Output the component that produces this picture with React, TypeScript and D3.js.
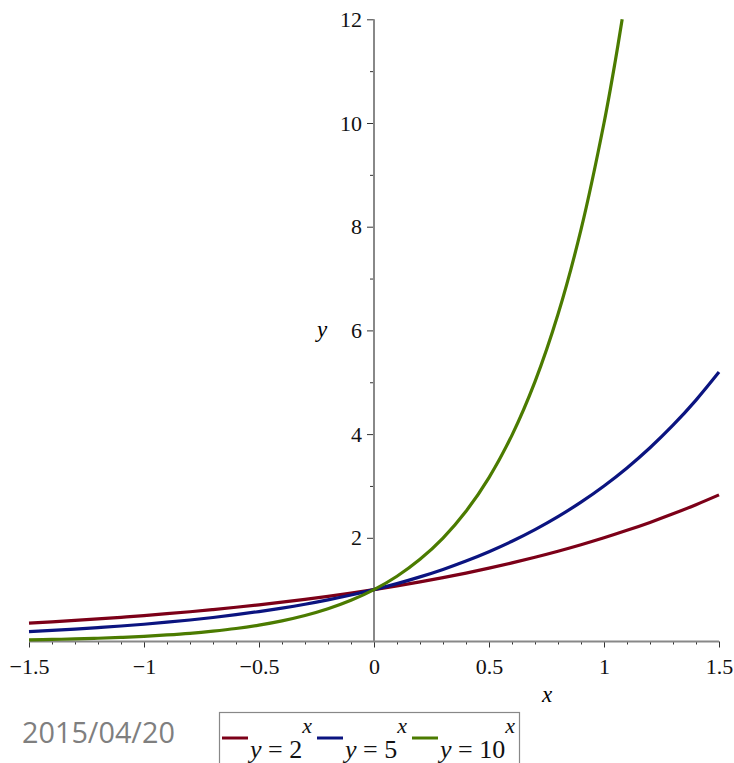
import React, { useEffect, useRef } from 'react'
import * as d3 from 'd3'

// sample points
const xValues = [-1.5, -1.4, -1.3, -1.2, -1.1, -1.0, -0.9, -0.8, -0.7, -0.6, -0.5, -0.4, -0.3, -0.2, -0.1, 0,
  0.1, 0.2, 0.3, 0.4, 0.5, 0.6, 0.7, 0.8, 0.9, 1.0, 1.1, 1.2, 1.3, 1.4, 1.5]
const redValues = [0.354, 0.379, 0.406, 0.435, 0.467, 0.5, 0.536, 0.574, 0.616, 0.66, 0.707, 0.758, 0.812, 0.871, 0.933, 1,
  1.072, 1.149, 1.231, 1.32, 1.414, 1.516, 1.625, 1.741, 1.866, 2.0, 2.144, 2.297, 2.462, 2.639, 2.828]
const blueValues = [0.192, 0.215, 0.24, 0.268, 0.299, 0.333, 0.372, 0.415, 0.463, 0.517, 0.577, 0.644, 0.719, 0.803, 0.896, 1,
  1.116, 1.246, 1.39, 1.552, 1.732, 1.933, 2.158, 2.408, 2.688, 3.0, 3.348, 3.737, 4.171, 4.656, 5.196]
const greenX = [-1.5, -1.4, -1.3, -1.2, -1.1, -1.0, -0.9, -0.8, -0.7, -0.6, -0.5, -0.4, -0.3, -0.2, -0.1, 0,
  0.1, 0.2, 0.3, 0.4, 0.5, 0.6, 0.7, 0.8, 0.9, 1.0, 1.05, 1.079]
const greenValues = [0.032, 0.04, 0.05, 0.063, 0.079, 0.1, 0.126, 0.158, 0.2, 0.251, 0.316, 0.398, 0.501, 0.631, 0.794, 1,
  1.259, 1.585, 1.995, 2.512, 3.162, 3.981, 5.012, 6.31, 7.943, 10.0, 11.22, 12.0]

const xMajor = [-1.5, -1, -0.5, 0, 0.5, 1, 1.5]
const yMajor = [2, 4, 6, 8, 10, 12]
const yMinor = [1, 3, 5, 7, 9, 11]
const legendLabels = ['2', '5', '10']

const RED = '#7c0018'
const BLUE = '#0b1480'
const GREEN = '#4b7b00'
const SERIF = 'Liberation Serif, DejaVu Serif, serif'

function App () {
  const axRef = useRef<SVGGElement>(null)

  const x = d3.scaleLinear().domain([-1.5, 1.5]).range([29, 719])
  const y = d3.scaleLinear().domain([0, 12]).range([641.5, 19.3])

  const line = d3.line<[number, number]>()
    .x(d => x(d[0]))
    .y(d => y(d[1]))
    .curve(d3.curveCatmullRom)

  const series = [
    { color: RED, pts: xValues.map((v, i) => [v, redValues[i]] as [number, number]) },
    { color: BLUE, pts: xValues.map((v, i) => [v, blueValues[i]] as [number, number]) },
    { color: GREEN, pts: greenX.map((v, i) => [v, greenValues[i]] as [number, number]) },
  ]

  useEffect(() => {
    const g = d3.select(axRef.current)
    g.selectAll('*').remove()

    const fmt = (d: any) => (d < 0 ? '\u2212' + Math.abs(d) : String(d))

    // x axis, major and minor
    const xMinor = d3.range(-15, 16).map(i => i / 10).filter(v => !xMajor.some(m => Math.abs(m - v) < 1e-9))
    g.append('g')
      .attr('transform', `translate(0,${y(0)})`)
      .call(d3.axisBottom(x).tickValues(xMinor).tickSize(3).tickFormat(() => ''))
    g.append('g')
      .attr('transform', `translate(0,${y(0)})`)
      .call(d3.axisBottom(x).tickValues(xMajor).tickSize(6).tickPadding(11).tickFormat(fmt))

    // y axis
    g.append('g')
      .attr('transform', `translate(${x(0)},0)`)
      .call(d3.axisLeft(y).tickValues(yMinor).tickSize(4).tickFormat(() => ''))
    g.append('g')
      .attr('transform', `translate(${x(0)},0)`)
      .call(d3.axisLeft(y).tickValues(yMajor).tickSize(7).tickPadding(5).tickFormat(fmt))

    g.selectAll('.domain').remove()
    g.selectAll('g').attr('font-family', null).attr('font-size', null)
    g.selectAll('.tick line').attr('stroke', '#333').attr('stroke-width', 1)
    g.selectAll('.tick text')
      .style('font-family', SERIF)
      .style('font-size', '22px')
      .attr('fill', '#111')

    // axis lines
    g.append('line')
      .attr('x1', x(-1.5)).attr('x2', x(1.5))
      .attr('y1', y(0)).attr('y2', y(0))
      .attr('stroke', '#888').attr('stroke-width', 2)
    g.append('line')
      .attr('x1', x(0)).attr('x2', x(0))
      .attr('y1', y(0)).attr('y2', y(12))
      .attr('stroke', '#888').attr('stroke-width', 2)
  }, [])

  const legendX = [222, 317, 412]
  const serifStyle = { fontFamily: SERIF }

  return (
    <div style={{ position: 'absolute', left: 0, top: 0 }}>
      <svg width={734} height={763} style={{ display: 'block', background: '#fff' }}>
        <g ref={axRef} />
        {series.map((s, i) => (
          <path key={i} d={line(s.pts) || ''} fill="none" stroke={s.color} strokeWidth={3.2} />
        ))}
        <text x={322} y={337} textAnchor="middle" style={serifStyle} fontStyle="italic" fontSize={23}>y</text>
        <text x={547} y={702} textAnchor="middle" style={serifStyle} fontStyle="italic" fontSize={23}>x</text>

        <text x={22} y={743} style={{ fontFamily: 'Open Sans, sans-serif' }} fontSize={28.8} fill="#7f7f7f">2015/04/20</text>

        <rect x={219.5} y={712.5} width={300} height={70} fill="#fff" stroke="#888" strokeWidth={1.2} />
        {legendLabels.map((lab, i) => (
          <g key={lab}>
            <line x1={legendX[i]} x2={legendX[i] + 26} y1={738} y2={738} stroke={series[i].color} strokeWidth={3} />
            <text x={legendX[i] + 28} y={758} style={serifStyle} fontSize={26} fill="#111">
              <tspan fontStyle="italic">y</tspan> = {lab}
              <tspan dy={-25} fontSize={22} fontStyle="italic">x</tspan>
            </text>
          </g>
        ))}
      </svg>
    </div>
  )
}

export default App
